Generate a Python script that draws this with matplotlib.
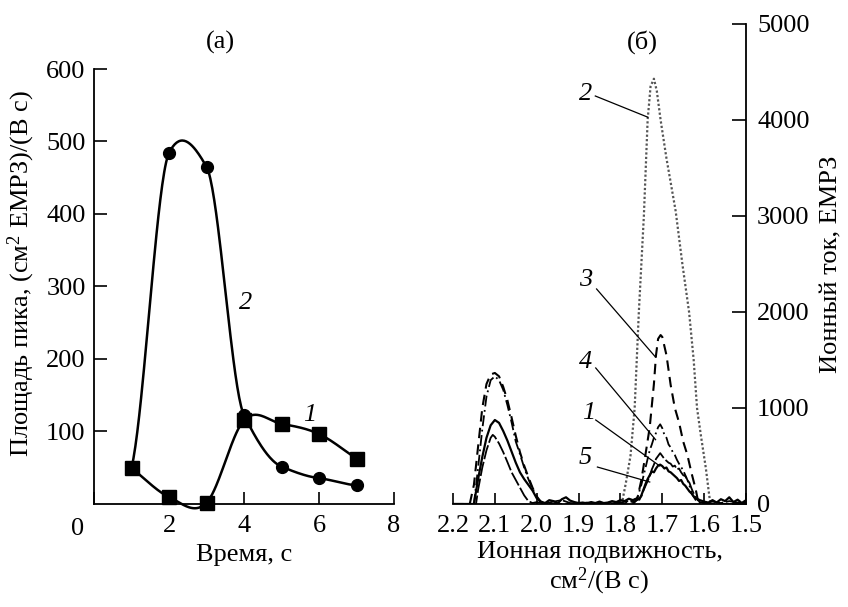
import matplotlib
matplotlib.use("Agg")
import matplotlib.pyplot as plt
import numpy as np

plt.rcParams["font.family"] = ["Liberation Serif", "DejaVu Serif"]
plt.rcParams["font.size"] = 19
plt.rcParams["mathtext.fontset"] = "custom"
plt.rcParams["mathtext.rm"] = "Liberation Serif"
plt.rcParams["mathtext.it"] = "Liberation Serif:italic"

# ---------------------------------------------------------------------------
# (a) peak area vs time
# ---------------------------------------------------------------------------
time_1 = [1, 2, 3, 4, 5, 6, 7]
area_1 = [49, 9, 1, 115, 110, 96, 62]
time_2 = [1, 2, 3, 4, 5, 6, 7]
area_2 = [49, 484, 465, 122, 51, 35, 25]

# ---------------------------------------------------------------------------
# (б) ion current vs ion mobility
# ---------------------------------------------------------------------------
mob_1 = [2.20, 2.15, 2.14, 2.13, 2.12, 2.11, 2.10, 2.09, 2.08, 2.07, 2.06, 2.05,
         2.04, 2.03, 2.02, 2.01, 2.00, 1.99, 1.98, 1.97, 1.96, 1.95, 1.94, 1.93,
         1.92, 1.91, 1.90, 1.89, 1.88, 1.87, 1.86, 1.85, 1.84, 1.83, 1.82, 1.81,
         1.80, 1.79, 1.78, 1.77, 1.76, 1.755, 1.75, 1.745, 1.74, 1.735, 1.73,
         1.725, 1.72, 1.715, 1.71, 1.705, 1.70, 1.695, 1.69, 1.685, 1.68, 1.675,
         1.67, 1.665, 1.66, 1.655, 1.65, 1.645, 1.64, 1.635, 1.63, 1.625, 1.62,
         1.61, 1.60, 1.59, 1.58, 1.57, 1.56, 1.55, 1.54, 1.53, 1.52, 1.51, 1.50]
cur_1 = [0, 0, 260, 490, 690, 820, 875, 845, 760, 660, 545, 430,
         330, 260, 200, 140, 60, 25, 10, 40, 30, 5, 50, 70,
         35, 20, 10, 15, 5, 20, 10, 25, 10, 15, 30, 20,
         40, 30, 55, 40, 60, 45, 90, 150, 210, 260, 300,
         340, 330, 370, 400, 410, 395, 370, 380, 340, 330, 310,
         290, 270, 240, 250, 210, 190, 160, 130, 110, 80, 60,
         40, 25, 15, 40, 15, 50, 30, 70, 20, 45, 10, 40]

mob_5 = [2.20, 2.145, 2.14, 2.13, 2.12, 2.11, 2.105, 2.10, 2.09, 2.08, 2.07,
         2.06, 2.05, 2.04, 2.03, 2.02, 2.01, 2.00, 1.98, 1.96, 1.94, 1.92, 1.90,
         1.88, 1.86, 1.84, 1.82, 1.80, 1.78, 1.77, 1.76, 1.75, 1.745, 1.74,
         1.735, 1.73, 1.725, 1.72, 1.715, 1.71, 1.705, 1.70, 1.695, 1.69, 1.685,
         1.68, 1.675, 1.67, 1.665, 1.66, 1.655, 1.65, 1.645, 1.64, 1.635, 1.63,
         1.625, 1.62, 1.61, 1.60, 1.58, 1.56, 1.54, 1.52, 1.50]
cur_5 = [0, 0, 150, 380, 560, 690, 720, 700, 630, 540, 437,
         330, 250, 170, 90, 30, 10, 20, 5, 25, 40, 10, 5,
         15, 10, 5, 20, 15, 30, 20, 40, 80, 140, 190,
         240, 290, 360, 410, 470, 500, 530, 500, 470, 450, 430,
         420, 390, 400, 360, 370, 330, 300, 290, 250, 220, 160,
         110, 60, 20, 10, 25, 10, 30, 15, 20]

mob_4 = [2.20, 2.15, 2.14, 2.13, 2.12, 2.11, 2.10, 2.09, 2.08, 2.07, 2.06,
         2.05, 2.04, 2.03, 2.02, 2.01, 2.00, 1.99, 1.98, 1.90, 1.80, 1.78,
         1.76, 1.75, 1.74, 1.73, 1.725, 1.72, 1.715, 1.71, 1.705, 1.70, 1.695,
         1.69, 1.685, 1.68, 1.675, 1.67, 1.665, 1.66, 1.65, 1.64, 1.635, 1.63,
         1.62, 1.61, 1.60, 1.55, 1.50]
cur_4 = [0, 0, 380, 780, 1120, 1290, 1330, 1290, 1190, 1030, 850,
         650, 520, 380, 260, 160, 70, 20, 0, 0, 10, 20,
         60, 200, 380, 560, 620, 690, 740, 800, 830, 790, 720,
         690, 620, 590, 540, 510, 460, 420, 350, 250, 190, 110,
         40, 10, 0, 0, 0]

mob_3 = [2.20, 2.16, 2.15, 2.14, 2.13, 2.12, 2.11, 2.10, 2.09, 2.08, 2.07,
         2.06, 2.05, 2.04, 2.03, 2.02, 2.01, 2.00, 1.99, 1.98, 1.90, 1.77,
         1.76, 1.75, 1.74, 1.73, 1.72, 1.715, 1.71, 1.704, 1.70, 1.69, 1.68,
         1.67, 1.66, 1.65, 1.64, 1.63, 1.62, 1.615, 1.61, 1.50]
cur_3 = [0, 0, 200, 600, 1000, 1250, 1350, 1365, 1330, 1220, 1080,
         900, 710, 540, 400, 280, 170, 80, 20, 0, 0, 0,
         50, 250, 520, 800, 1250, 1550, 1720, 1760, 1740, 1550, 1240,
         1000, 850, 650, 510, 320, 150, 40, 0, 0]

mob_2 = [1.80, 1.795, 1.787, 1.776, 1.766, 1.756, 1.744, 1.735, 1.728, 1.72,
         1.713, 1.704, 1.69, 1.668, 1.652, 1.636, 1.625, 1.617, 1.608, 1.596,
         1.588, 1.585]
cur_2 = [0, 40, 220, 500, 1000, 2000, 3000, 4000, 4350, 4430,
         4300, 4000, 3600, 3050, 2500, 2000, 1500, 1000, 720, 375,
         94, 0]

# curve label: (text x, text y, leader start x, start y, end x, end y)
labels_b = {
    "2": (1.883, 4270, 1.860, 4250, 1.735, 4030),
    "3": (1.883, 2330, 1.857, 2240, 1.716, 1530),
    "4": (1.883, 1480, 1.859, 1417, 1.716, 670),
    "1": (1.876, 950, 1.859, 875, 1.706, 396),
    "5": (1.883, 480, 1.855, 385, 1.730, 229),
}


def cardinal(xs, ys, scale, n=40):
    """Smooth curve through the points (cardinal spline)."""
    xs = np.asarray(xs, dtype=float)
    ys = np.asarray(ys, dtype=float)
    m = np.empty_like(ys)
    m[1:-1] = (ys[2:] - ys[:-2]) / (xs[2:] - xs[:-2])
    m[0] = (ys[1] - ys[0]) / (xs[1] - xs[0])
    m[-1] = (ys[-1] - ys[-2]) / (xs[-1] - xs[-2])
    m *= scale
    out_x, out_y = [], []
    for i in range(len(xs) - 1):
        h = xs[i + 1] - xs[i]
        t = np.linspace(0, 1, n)
        h00 = 2 * t**3 - 3 * t**2 + 1
        h10 = t**3 - 2 * t**2 + t
        h01 = -2 * t**3 + 3 * t**2
        h11 = t**3 - t**2
        out_x.append(xs[i] + t * h)
        out_y.append(h00 * ys[i] + h10 * h * m[i] + h01 * ys[i + 1] + h11 * h * m[i + 1])
    return np.concatenate(out_x), np.concatenate(out_y)


fig = plt.figure(figsize=(8.48, 6.07), dpi=100)

# --- panel (a) ---
ax = fig.add_axes([94 / 848, 1 - 503.5 / 607, 300 / 848, 434.5 / 607])
sx, sy = cardinal(time_1, area_1, 1.0)
ax.plot(sx, sy, color="black", lw=1.8, clip_on=False, zorder=2)
sx, sy = cardinal(time_2, area_2, 0.5)
ax.plot(sx, sy, color="black", lw=1.8, clip_on=False, zorder=2)
ax.plot(time_1, area_1, ls="none", marker="s", ms=10.5, color="black",
        clip_on=False, zorder=3)
ax.plot(time_2[1:], area_2[1:], ls="none", marker="o", ms=8.5, color="black",
        clip_on=False, zorder=3)
ax.text(4.03, 277, "2", style="italic", ha="center", va="center")
ax.text(5.76, 122, "1", style="italic", ha="center", va="center")

ax.set_xlim(0, 8)
ax.set_ylim(0, 600)
ax.set_xticks([0, 2, 4, 6, 8])
ax.set_xticklabels(["", "2", "4", "6", "8"])
ax.set_yticks([100, 200, 300, 400, 500, 600])
ax.annotate("0", xy=(0, 0), xycoords="data", xytext=(-11.5, -18.4),
            textcoords="offset points", ha="center", va="center",
            annotation_clip=False)
for s in ("top", "right"):
    ax.spines[s].set_visible(False)
for s in ("left", "bottom"):
    ax.spines[s].set_linewidth(1.3)
ax.tick_params(axis="x", direction="in", length=9, width=1.2, pad=8)
ax.tick_params(axis="y", direction="in", length=9, width=1.2, pad=6)
ax.set_xlabel("Время, с", labelpad=5)
ax.set_ylabel("Площадь пика, (см$^2$ ЕМРЗ)/(В с)")
ax.yaxis.set_label_coords(-0.19, 0.53)
fig.text(220 / 848, 1 - 42 / 607, "(а)", ha="center", va="center")

# --- panel (б) ---
bx = fig.add_axes([453 / 848, 1 - 504 / 607, 293 / 848, 480 / 607])
bx.plot(mob_2, cur_2, color="#555555", lw=1.6, ls=(0, (1, 1)), zorder=2)
bx.plot(mob_3, cur_3, color="black", lw=1.5, ls=(0, (5, 3)), zorder=3)
bx.plot(mob_4, cur_4, color="black", lw=1.3, ls=(0, (6, 2, 1, 2)), zorder=3)
bx.plot(mob_5, cur_5, color="black", lw=1.3, ls=(0, (8, 1.5)), zorder=3)
bx.plot(mob_1, cur_1, color="black", lw=1.6, zorder=4)
for name, (tx, ty, x0, y0, x1, y1) in labels_b.items():
    bx.plot([x0, x1], [y0, y1], color="black", lw=0.9, zorder=5)
    bx.text(tx, ty, name, style="italic", ha="center", va="center")

bx.set_xlim(2.2, 1.5)
bx.set_ylim(0, 5000)
bx.set_xticks([2.2, 2.1, 2.0, 1.9, 1.8, 1.7, 1.6, 1.5])
bx.set_xticklabels(["2.2", "2.1", "2.0", "1.9", "1.8", "1.7", "1.6", "1.5"])
bx.set_yticks([0, 1000, 2000, 3000, 4000, 5000])
bx.yaxis.tick_right()
bx.yaxis.set_label_position("right")
for s in ("top", "left"):
    bx.spines[s].set_visible(False)
for s in ("right", "bottom"):
    bx.spines[s].set_linewidth(1.3)
bx.tick_params(axis="x", direction="in", length=8, width=1.2, pad=8)
bx.tick_params(axis="y", direction="in", length=10, width=1.2, pad=8)
bx.set_xlabel("Ионная подвижность,\nсм$^2$/(В с)", labelpad=3, linespacing=1.1)
bx.set_ylabel("Ионный ток, ЕМРЗ")
bx.yaxis.set_label_coords(1.255, 0.5)
fig.text(642 / 848, 1 - 42 / 607, "(б)", ha="center", va="center")

fig.savefig("out.png", dpi=100)
